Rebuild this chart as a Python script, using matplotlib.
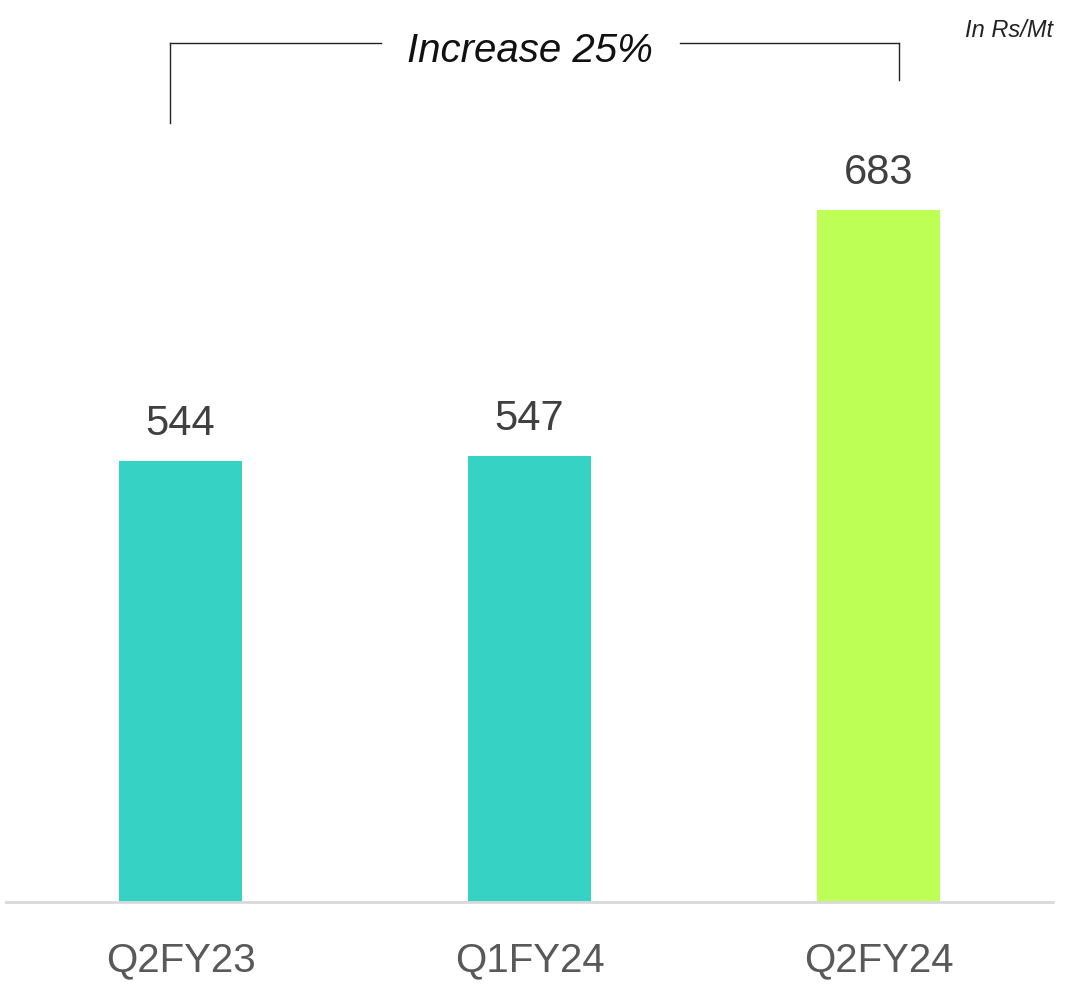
import matplotlib.pyplot as plt
import numpy as np

plt.rcParams['font.family'] = ['Liberation Sans', 'DejaVu Sans']

quarters = ['Q2FY23', 'Q1FY24', 'Q2FY24']
values = [544, 547, 683]
bar_colors = ['#36D3C5', '#36D3C5', '#BEFF55']
unit_label = 'In Rs/Mt'
change_label = 'Increase 25%'

fig = plt.figure(figsize=(10.76, 9.88), dpi=100)
ax = fig.add_axes([0.0056, 0.087, 0.973, 0.913])

x = np.arange(len(quarters))
bars = ax.bar(x, values, width=0.355, color=bar_colors, bottom=0)
ax.set_xlim(-0.5, 2.5)
ax.set_ylim(300, 799)

for xi, v in zip(x, values):
    ax.annotate(str(v), (xi, v), xytext=(0, 12), textcoords='offset points',
                ha='center', va='bottom', fontsize=30, color='#404040')

ax.set_xticks(x)
ax.set_xticklabels(quarters, fontsize=29, color='#595959')
ax.tick_params(axis='x', length=0, pad=28)
ax.set_yticks([])
for s in ['top', 'right', 'left']:
    ax.spines[s].set_visible(False)
ax.spines['bottom'].set_color('#D9D9D9')
ax.spines['bottom'].set_linewidth(2)

# bracket above the bars, from first to last quarter
top_y = 775
lw = 1.0
ax.plot([-0.03, -0.03], [731, top_y], color='#222222', lw=lw, clip_on=False)
ax.plot([-0.03, 0.575], [top_y, top_y], color='#222222', lw=lw, clip_on=False)
ax.plot([1.43, 2.06], [top_y, top_y], color='#222222', lw=lw, clip_on=False)
ax.plot([2.06, 2.06], [755, top_y], color='#222222', lw=lw, clip_on=False)
ax.text(1.0, 771, change_label, ha='center', va='center', fontsize=29,
        style='italic', color='#111111')
ax.text(2.5, 782, unit_label, ha='right', va='center', fontsize=17,
        style='italic', color='#222222')

fig.savefig('out.png', dpi=100)
